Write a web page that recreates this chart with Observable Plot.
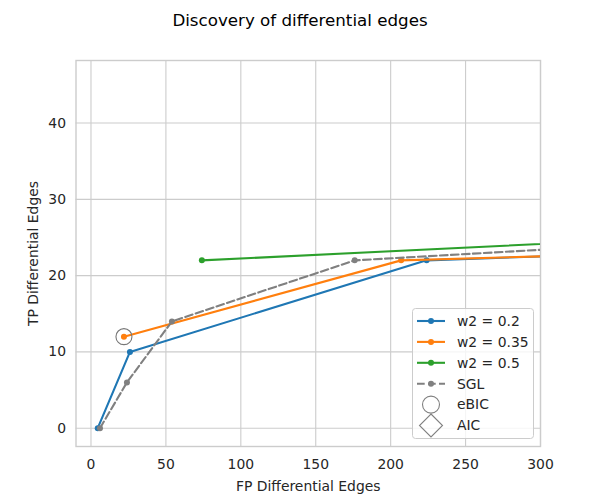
<!DOCTYPE html>
<html>
<head>
<meta charset="utf-8">
<script src="https://cdn.jsdelivr.net/npm/d3@7"></script>
<script src="https://cdn.jsdelivr.net/npm/@observablehq/plot@0.6"></script>
<style>
  body { margin: 0; background: #fff; font-family: "DejaVu Sans", sans-serif; }
  #wrap { position: relative; width: 600px; height: 500px; }
  #title { height: 40px; line-height: 40px; text-align: center; font-size: 16.7px; color: #000; }
  #legend { position: absolute; left: 412px; top: 308px; }
</style>
</head>
<body>
<div id="wrap">
  <div id="title">Discovery of differential edges</div>
  <div id="chart"></div>
  <svg id="legend" width="122" height="131"></svg>
</div>
<script>
// Axis ticks
const xTicks = [0, 50, 100, 150, 200, 250, 300];
const yTicks = [0, 10, 20, 30, 40];

// Series: false positives (FP) vs true positives (TP) of differential edges
const seriesNames = ["w2 = 0.2", "w2 = 0.35", "w2 = 0.5", "SGL"];
const seriesColors = ["#1f77b4", "#ff7f0e", "#2ca02c", "#808080"];

const w02FP  = [4.5, 26, 224, 400];
const w02TP  = [0, 10, 22, 23.2];
const w035FP = [22, 207, 400];
const w035TP = [12, 22, 23.1];
const w05FP  = [74, 400];
const w05TP  = [22, 25.1];
const sglFP  = [6, 24, 54, 176, 400];
const sglTP  = [0, 6, 14, 22, 24.5];

// Selected models
const ebicFP = [22];
const ebicTP = [12];

const fpLists = [w02FP, w035FP, w05FP, sglFP];
const tpLists = [w02TP, w035TP, w05TP, sglTP];

const series = seriesNames.map((name, i) => ({
  name,
  color: seriesColors[i],
  dashed: name === "SGL",
  rows: fpLists[i].map((fp, j) => ({ fp, tp: tpLists[i][j] }))
}));
const ebic = ebicFP.map((fp, i) => ({ fp, tp: ebicTP[i] }));

const grid = "#cccccc";
const dash = "7.7,3.3";

const marks = [
  Plot.gridX(xTicks, { stroke: grid, strokeOpacity: 1, strokeWidth: 1.1 }),
  Plot.gridY(yTicks, { stroke: grid, strokeOpacity: 1, strokeWidth: 1.1 }),
  Plot.frame({ stroke: grid, strokeWidth: 1.4 })
];
for (const s of series) {
  marks.push(Plot.line(s.rows, {
    x: "fp", y: "tp", stroke: s.color, strokeWidth: 2.1,
    strokeDasharray: s.dashed ? dash : null, clip: true
  }));
  marks.push(Plot.dot(s.rows, { x: "fp", y: "tp", fill: s.color, r: 3, clip: true }));
}
marks.push(
  Plot.dot(ebic, { x: "fp", y: "tp", r: 8, stroke: "#777777", strokeWidth: 1.1, fill: "none" }),
  Plot.axisX(xTicks, { tickSize: 0, tickPadding: 13, label: null }),
  Plot.axisY(yTicks, { tickSize: 0, tickPadding: 10, label: null }),
  Plot.text(["FP Differential Edges"], {
    text: d => d, frameAnchor: "bottom", dy: 40, lineAnchor: "middle", textAnchor: "middle", fill: "#262626"
  }),
  Plot.text(["TP Differential Edges"], {
    text: d => d, frameAnchor: "left", dx: -42, rotate: -90, lineAnchor: "middle", textAnchor: "middle", fill: "#262626"
  })
);

const chart = Plot.plot({
  width: 600,
  height: 460,
  marginTop: 20,
  marginBottom: 54,
  marginLeft: 75.5,
  marginRight: 60,
  x: { domain: [-10, 300] },
  y: { domain: [-2.4, 48.2] },
  style: { fontFamily: "DejaVu Sans, sans-serif", fontSize: "13.9px", color: "#262626", background: "#fff" },
  marks
});
document.getElementById("chart").appendChild(chart);

// Legend
const legendItems = [
  ...series.map(s => ({ label: s.name, kind: "line", color: s.color, dashed: s.dashed })),
  { label: "eBIC", kind: "circle", color: "#808080" },
  { label: "AIC", kind: "diamond", color: "#808080" }
];
const lg = d3.select("#legend");
lg.append("rect")
  .attr("x", 0.5).attr("y", 0.5).attr("width", 121).attr("height", 130)
  .attr("rx", 3).attr("fill", "#fff").attr("fill-opacity", 0.8)
  .attr("stroke", "#cccccc").attr("stroke-width", 1);
const row = lg.selectAll("g.item").data(legendItems).join("g")
  .attr("class", "item")
  .attr("transform", (d, i) => `translate(0,${13 + i * 20.9})`);
row.filter(d => d.kind === "line").append("line")
  .attr("x1", 5).attr("x2", 33).attr("stroke", d => d.color).attr("stroke-width", 2.1)
  .attr("stroke-dasharray", d => d.dashed ? dash : null);
row.filter(d => d.kind === "line").append("circle")
  .attr("cx", 19).attr("r", 3).attr("fill", d => d.color);
row.filter(d => d.kind === "circle").append("circle")
  .attr("cx", 19).attr("r", 8.5).attr("fill", "none").attr("stroke", d => d.color).attr("stroke-width", 1.1);
row.filter(d => d.kind === "diamond").append("path")
  .attr("d", "M19,-11.5L30.5,0L19,11.5L7.5,0Z").attr("fill", "none")
  .attr("stroke", d => d.color).attr("stroke-width", 1.1);
row.append("text")
  .attr("x", 45).attr("dy", "0.35em")
  .attr("font-family", "DejaVu Sans, sans-serif").attr("font-size", "13.9px")
  .attr("fill", "#262626")
  .text(d => d.label);
</script>
</body>
</html>
